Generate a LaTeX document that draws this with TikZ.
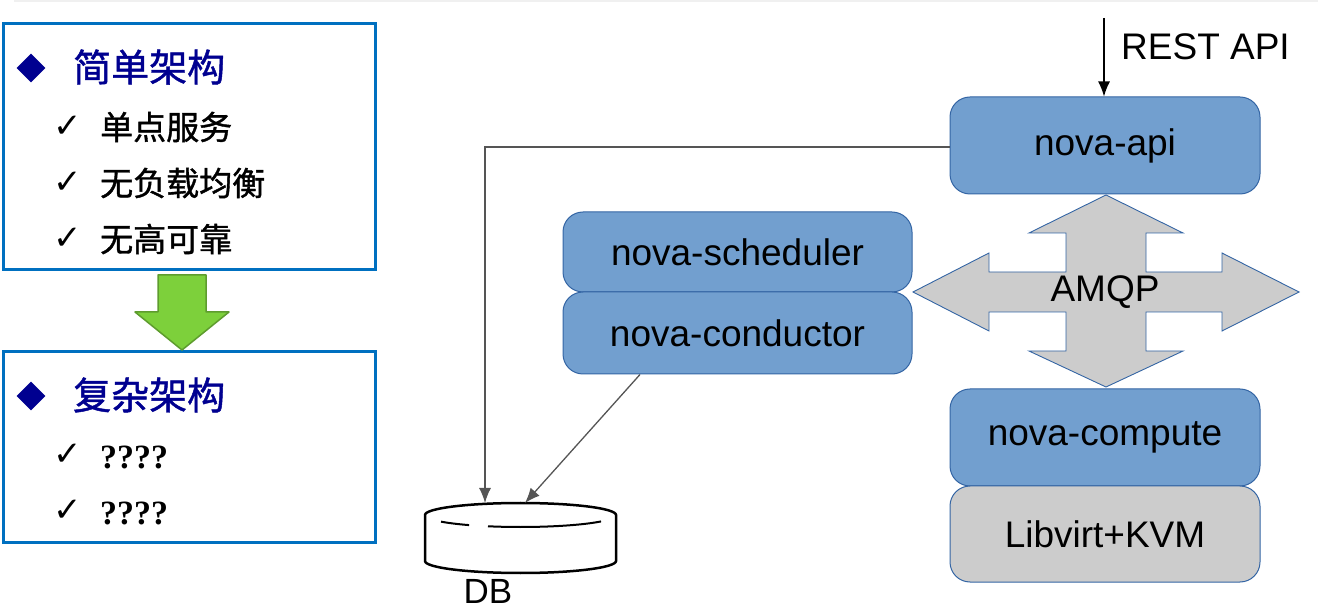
\documentclass[tikz,border=0pt]{standalone}
\usepackage{fontspec}
\setmainfont{Liberation Sans}
\newfontfamily\cjk{Noto Sans CJK SC}[FakeBold=1.2]
\newfontfamily\qfont{Liberation Serif}
\newfontfamily\dejavu{DejaVu Sans}
\usetikzlibrary{arrows.meta,shapes.geometric}
\definecolor{boxblue}{HTML}{0070C0}
\definecolor{navy}{HTML}{000090}
\definecolor{nodefill}{HTML}{729FCF}
\definecolor{nodeline}{HTML}{3465A4}
\definecolor{greyfill}{HTML}{CCCCCC}
\definecolor{greenfill}{HTML}{7DD03B}
\definecolor{greenline}{HTML}{5E9C2E}
\definecolor{conn}{HTML}{555555}
\tikzset{
  x=1pt, y=-1pt,
  lab/.style={font=\fontsize{37}{40}\selectfont, text=black},
  bluebox/.style={lab, draw=nodeline, fill=nodefill, line width=1pt, rounded corners=20pt, inner sep=0pt},
  greybox/.style={lab, draw=nodeline, fill=greyfill, line width=1pt, rounded corners=20pt, inner sep=0pt},
  framebox/.style={draw=boxblue, line width=3pt, inner sep=0pt},
  bullet/.style={diamond, fill=navy, minimum width=29pt, minimum height=29pt, inner sep=0pt},
  titletxt/.style={font=\cjk\fontsize{38}{40}\selectfont, text=navy, anchor=west, inner sep=0pt},
  itemtxt/.style={font=\cjk\fontsize{33}{36}\selectfont, text=black, anchor=west, inner sep=0pt},
  qtxt/.style={font=\qfont\bfseries\fontsize{34}{36}\selectfont, text=black, anchor=west, inner sep=0pt},
  checkmk/.style={font=\dejavu\fontsize{34}{36}\selectfont, inner sep=0pt},
  connector/.style={draw=conn, line width=1.3pt, -{Latex[length=15pt,width=12pt]}},
}
\begin{document}
\begin{tikzpicture}
\useasboundingbox (0,0) rectangle (1318,609);
\draw[gray!12, line width=2pt] (14,0.8) -- (1318,0.8);

% ---------- left side ----------
\node[framebox, minimum width=372pt, minimum height=246pt] (box1) at (189,147) {};
\node[framebox, minimum width=372pt, minimum height=190pt] (box2) at (189,447) {};

\node[bullet] (b1) at (31,68) {};
\node[titletxt] (t1) at (73,67) {简单架构};
\node[checkmk] (c1) at (68,127) {✓};
\node[itemtxt] (i1) at (100,127) {单点服务};
\node[checkmk] (c2) at (68,183) {✓};
\node[itemtxt] (i2) at (100,183) {无负载均衡};
\node[checkmk] (c3) at (68,239) {✓};
\node[itemtxt] (i3) at (100,239) {无高可靠};

\node[bullet] (b2) at (31,396) {};
\node[titletxt] (t2) at (73,395) {复杂架构};
\node[checkmk] (c4) at (68,455) {✓};
\node[qtxt] (q1) at (100,457) {????};
\node[checkmk] (c5) at (68,511) {✓};
\node[qtxt] (q2) at (100,513) {????};

% green down arrow
\draw[fill=greenfill, draw=greenline, line width=1.5pt, line join=round]
  (158,275) -- (206,275) -- (206,312) -- (229,312) -- (182,350) -- (135,312) -- (158,312) -- cycle;

% ---------- right side ----------
\node[bluebox, minimum width=310pt, minimum height=97pt] (api) at (1105,145.5) {nova-api};
\node[bluebox, minimum width=349pt, minimum height=80pt] (sched) at (737.5,252) {nova-scheduler};
\node[bluebox, minimum width=349pt, minimum height=82pt] (cond) at (737.5,333) {nova-conductor};
\node[bluebox, minimum width=310pt, minimum height=97pt] (compute) at (1105,437.5) {nova-compute};
\node[greybox, minimum width=310pt, minimum height=96pt] (libvirt) at (1105,534) {Libvirt+KVM};

% AMQP cross arrow
\draw[fill=greyfill, draw=nodeline, line width=0.9pt, line join=miter]
  (1106,195) -- (1183,233) -- (1146,233) -- (1146,272) -- (1222,272) -- (1222,253) -- (1299,292)
  -- (1222,331) -- (1222,312) -- (1146,312) -- (1146,351) -- (1183,351) -- (1106,387)
  -- (1029,351) -- (1066,351) -- (1066,312) -- (989,312) -- (989,331) -- (913,292)
  -- (989,253) -- (989,272) -- (1066,272) -- (1066,233) -- (1029,233) -- cycle;
\node[lab] (amqp) at (1105,292) {AMQP};

% REST API
\coordinate (rest) at (1104,18);
\draw[black, line width=1.3pt, -{Latex[length=15pt,width=12pt]}] (rest) -- (api.north -| rest);
\node[lab, anchor=west, inner sep=0pt] (restlab) at (1121,47) {REST API};

% DB cylinder
\draw[black, line width=2.5pt, fill=white]
  (425,515) arc[start angle=180, end angle=360, x radius=95.5, y radius=12]
  -- (616,561) arc[start angle=0, end angle=180, x radius=95.5, y radius=12] -- cycle;
\draw[black, line width=2pt]
  (520.5,515) ++(146.3:95.5 and 12) arc[start angle=146.3, end angle=122.6, x radius=95.5, y radius=12];
\draw[black, line width=2pt]
  (520.5,515) ++(109.9:95.5 and 12) arc[start angle=109.9, end angle=32.5, x radius=95.5, y radius=12];
\node[font=\fontsize{35}{36}\selectfont, inner sep=0pt, anchor=base] (db) at (488,603) {DB};
\coordinate (dbl) at (485,503);
\coordinate (dbr) at (525,503);
\coordinate (corner) at (485,147);

% connectors
\draw[connector] (api.west |- corner) -- (corner) -- (dbl);
\draw[connector] (cond.south -| 640,0) -- (dbr);
\end{tikzpicture}
\end{document}
